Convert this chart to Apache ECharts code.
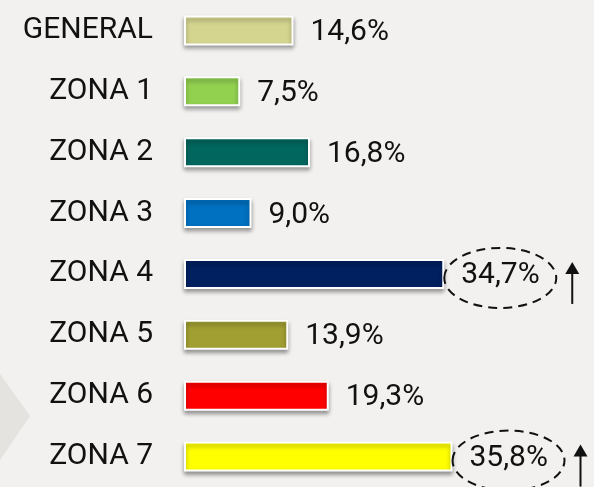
<!DOCTYPE html>
<html>
<head>
<meta charset="utf-8">
<script src="https://cdn.jsdelivr.net/npm/echarts@6/dist/echarts.min.js"></script>
<style>
  html, body { margin: 0; padding: 0; background: #f2f1ef; }
  #chart { width: 594px; height: 487px; }
</style>
</head>
<body>
<div id="chart"></div>
<script>
// zonas, de arriba a abajo
const zonas = ['GENERAL', 'ZONA 1', 'ZONA 2', 'ZONA 3', 'ZONA 4', 'ZONA 5', 'ZONA 6', 'ZONA 7'];
const valores = [14.6, 7.5, 16.8, 9.0, 34.7, 13.9, 19.3, 35.8];
const colores = ['#d4d58f', '#92d050', '#00665e', '#0070c0', '#002060', '#a19e32', '#ff0000', '#ffff00'];
// zonas marcadas con elipse y flecha
const destacadas = ['ZONA 4', 'ZONA 7'];

const fmt = (v) => v.toFixed(1).replace('.', ',') + '%';
const FONT = 'Roboto';

const chart = echarts.init(document.getElementById('chart'));

chart.setOption({
  backgroundColor: '#f2f1ef',
  animation: false,
  graphic: [{
    // triángulo gris de fondo (decoración)
    type: 'polygon', silent: true, z: -10,
    shape: { points: [[0, 374], [30, 416], [0, 460]] },
    style: { fill: '#e4e3e0' },
  }],
  grid: { left: 184, width: 300, top: -6, height: 496 },
  xAxis: { type: 'value', min: 0, max: 40, show: false },
  yAxis: {
    type: 'category',
    data: zonas,
    inverse: true,
    axisLine: { show: false },
    axisTick: { show: false },
    axisLabel: { color: '#111', fontFamily: FONT, fontSize: 30, margin: 31 },
  },
  series: [
    {
      type: 'bar',
      barWidth: 30,
      data: valores.map((v, i) => ({ value: v, itemStyle: { color: colores[i] } })),
      itemStyle: {
        borderColor: '#ffffff',
        borderWidth: 2,
        shadowColor: 'rgba(0,0,0,0.35)',
        shadowBlur: 4,
        shadowOffsetY: 3,
      },
      label: {
        show: true,
        position: 'right',
        distance: 17,
        offset: [0, 2],
        color: '#111',
        fontFamily: FONT,
        fontSize: 30,
        formatter: (p) => fmt(p.value),
      },
    },
    {
      // elipse punteada + flecha hacia arriba
      type: 'custom',
      silent: true,
      z: 5,
      data: destacadas.map((z) => [valores[zonas.indexOf(z)], zonas.indexOf(z)]),
      renderItem(params, api) {
        const p = api.coord([api.value(0), api.value(1)]);
        const ax = p[0] + 128;
        return {
          type: 'group',
          children: [
            {
              type: 'ellipse',
              shape: { cx: p[0] + 56, cy: p[1] + 4, rx: 56, ry: 30 },
              style: { fill: 'none', stroke: '#111', lineWidth: 2, lineDash: [9, 6] },
            },
            {
              type: 'line',
              shape: { x1: ax, y1: p[1] - 2, x2: ax, y2: p[1] + 30 },
              style: { stroke: '#111', lineWidth: 2 },
            },
            {
              type: 'polygon',
              shape: { points: [[ax, p[1] - 12], [ax - 7, p[1]], [ax + 7, p[1]]] },
              style: { fill: '#111' },
            },
          ],
        };
      },
    },
  ],
});
</script>
</body>
</html>
